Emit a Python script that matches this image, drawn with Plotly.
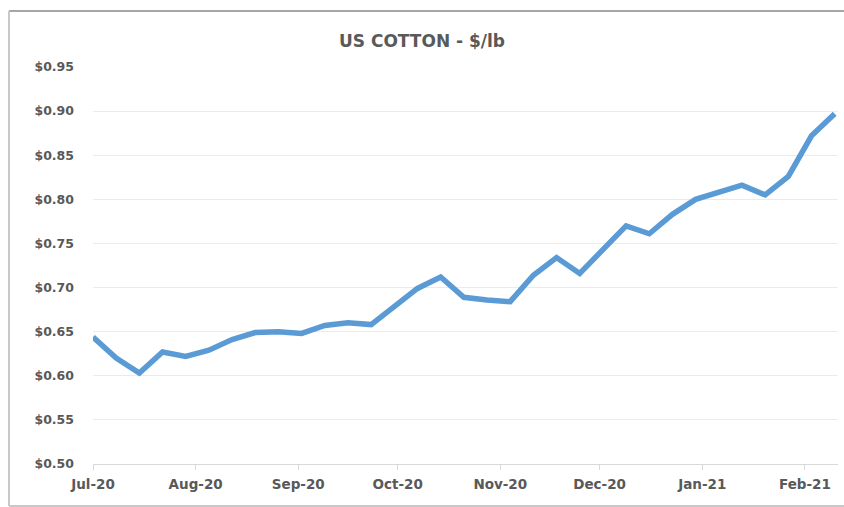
import pandas as pd
import plotly.graph_objects as go

# Weekly US cotton price, $/lb
start_date = "2020-07-01"
n_weeks = 33
dates = pd.date_range(start_date, periods=n_weeks, freq="7D")
prices = [0.644, 0.620, 0.603, 0.627, 0.622, 0.629, 0.641, 0.649, 0.650, 0.648,
          0.657, 0.660, 0.658, 0.678, 0.699, 0.712, 0.689, 0.686, 0.684, 0.714,
          0.734, 0.716, 0.742, 0.770, 0.761, 0.783, 0.800, 0.808, 0.816, 0.805,
          0.826, 0.872, 0.897]

title_text = "US COTTON - $/lb"
y_ticks = [0.50, 0.55, 0.60, 0.65, 0.70, 0.75, 0.80, 0.85, 0.90, 0.95]
y_labels = ["$%.2f" % v for v in y_ticks]
month_ticks = pd.date_range("2020-07-01", "2021-02-01", freq="MS")
month_labels = [d.strftime("%b-%y") for d in month_ticks]

font_family = "'DejaVu Sans', sans-serif"
grey_text = "#595959"

fig = go.Figure()
fig.add_trace(go.Scatter(
    x=dates, y=prices, mode="lines",
    line=dict(color="#5B9BD5", width=5.5, shape="linear"),
    hoverinfo="x+y", showlegend=False,
))

fig.update_layout(
    width=844, height=507,
    margin=dict(l=93, r=6, t=67, b=43),
    paper_bgcolor="white", plot_bgcolor="white",
    title=dict(text=title_text, x=0.5, xanchor="center", y=1 - 41 / 507, yanchor="middle",
               font=dict(family=font_family, size=17, color=grey_text, weight="bold")),
    font=dict(family=font_family, color=grey_text),
)

fig.update_xaxes(
    type="date",
    range=["2020-07-01", "2021-02-11"],
    tickvals=list(month_ticks), ticktext=month_labels,
    showgrid=False,
    showline=True, linecolor="#D9D9D9", linewidth=1,
    ticks="outside", ticklen=5, tickcolor="#D9D9D9",
    tickfont=dict(family=font_family, size=13.5, color=grey_text, weight="bold"),
    ticklabelstandoff=3,
    zeroline=False,
)
fig.update_yaxes(
    range=[0.50, 0.95],
    tickvals=y_ticks, ticktext=y_labels,
    showgrid=True, gridcolor="#EBEBEB", gridwidth=1,
    showline=False, zeroline=False, ticks="",
    tickfont=dict(family=font_family, size=12.5, color=grey_text, weight="bold"),
    ticklabelstandoff=18,
)

# chart frame (as seen in the reference screenshot)
frame_color = "#A6A6A6"
fig.add_shape(type="line", xref="paper", yref="paper",
              x0=(9 - 93) / 745, x1=(844 - 93) / 745, y0=(464 - 11) / 397, y1=(464 - 11) / 397,
              line=dict(color=frame_color, width=2))
fig.add_shape(type="line", xref="paper", yref="paper",
              x0=(9 - 93) / 745, x1=(9 - 93) / 745, y0=(464 - 11) / 397, y1=(464 - 506) / 397,
              line=dict(color="#C8C8C8", width=2))
fig.add_shape(type="line", xref="paper", yref="paper",
              x0=(9 - 93) / 745, x1=(844 - 93) / 745, y0=(464 - 506) / 397, y1=(464 - 506) / 397,
              line=dict(color="#C8C8C8", width=2))

fig.write_html("out.html")
